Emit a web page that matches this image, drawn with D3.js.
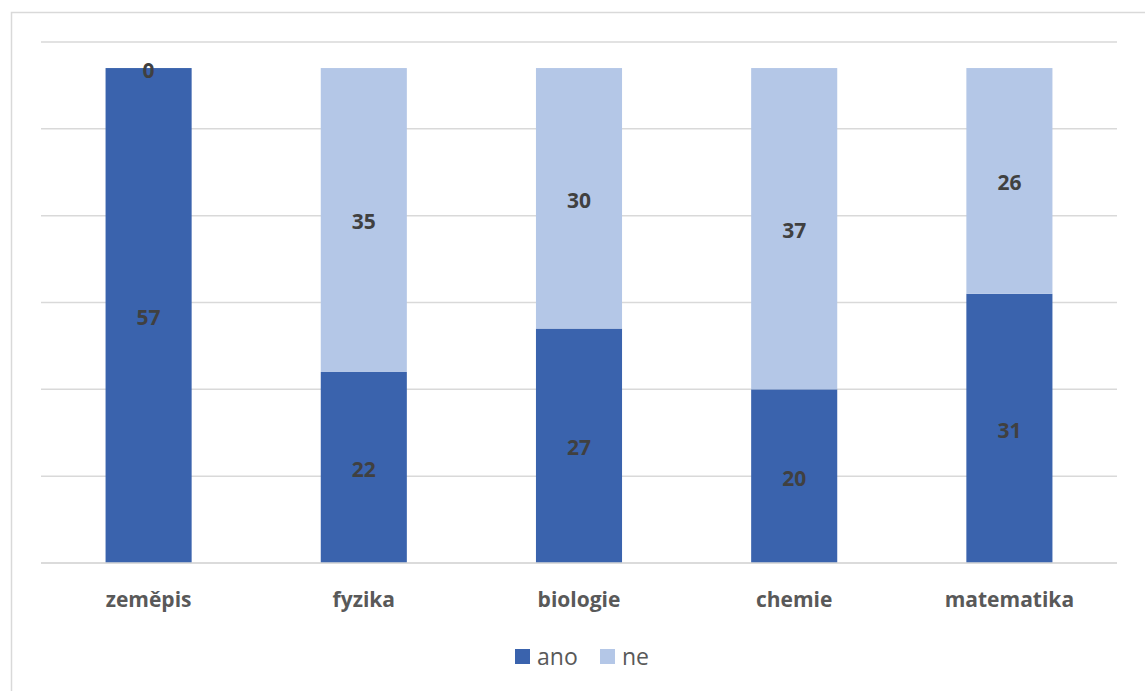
<!DOCTYPE html>
<html>
<head>
<meta charset="utf-8">
<script src="https://cdn.jsdelivr.net/npm/d3@7"></script>
<style>
  html, body { margin: 0; padding: 0; background: #fff; }
  svg { display: block; }
  text { font-family: "Open Sans", "Noto Sans", sans-serif; }
</style>
</head>
<body>
<svg id="chart" width="1145" height="691"></svg>
<script>
// Subjects and answer counts (stacked: ano below, ne on top)
const categories = ["zeměpis", "fyzika", "biologie", "chemie", "matematika"];
const ano = [57, 22, 27, 20, 31];
const ne  = [0, 35, 30, 37, 26];
const seriesNames = ["ano", "ne"];
const seriesColors = ["#3A63AD", "#B4C7E7"];
const yTicks = [0, 10, 20, 30, 40, 50, 60];

const svg = d3.select("#chart");
const W = 1145, H = 691;

// Outer chart frame
svg.append("rect")
  .attr("x", 11.5).attr("y", 12.5)
  .attr("width", W + 20).attr("height", H + 20)
  .attr("fill", "#fff").attr("stroke", "#d9d9d9").attr("stroke-width", 1.5);

const plot = { left: 41, right: 1117, top: 42, bottom: 563 };

const x = d3.scaleBand()
  .domain(categories)
  .range([plot.left, plot.right])
  .paddingInner(0.6)
  .paddingOuter(0.3);

const y = d3.scaleLinear()
  .domain([0, 60])
  .range([plot.bottom, plot.top]);

// Horizontal gridlines
svg.append("g")
  .selectAll("line")
  .data(yTicks)
  .join("line")
  .attr("x1", plot.left).attr("x2", plot.right)
  .attr("y1", d => y(d)).attr("y2", d => y(d))
  .attr("stroke", "#d9d9d9").attr("stroke-width", 1.5);

const rows = categories.map((c, i) => ({ cat: c, ano: ano[i], ne: ne[i] }));
const stacked = d3.stack().keys(seriesNames)(rows);

// Bars
const layers = svg.append("g")
  .selectAll("g")
  .data(stacked)
  .join("g")
  .attr("fill", (d, i) => seriesColors[i]);

layers.selectAll("rect")
  .data(d => d)
  .join("rect")
  .attr("x", d => x(d.data.cat))
  .attr("width", x.bandwidth())
  .attr("y", d => y(d[1]))
  .attr("height", d => y(d[0]) - y(d[1]));

// Baseline redrawn over bars
svg.append("line")
  .attr("x1", plot.left).attr("x2", plot.right)
  .attr("y1", y(0)).attr("y2", y(0))
  .attr("stroke", "#d9d9d9").attr("stroke-width", 1.5);

// Value labels centred in each segment
layers.selectAll("text")
  .data(d => d.map(p => ({ p, key: d.key })))
  .join("text")
  .attr("x", d => x(d.p.data.cat) + x.bandwidth() / 2)
  .attr("y", d => y((d.p[0] + d.p[1]) / 2))
  .attr("dy", "0.45em")
  .attr("text-anchor", "middle")
  .attr("fill", "#404040")
  .attr("font-size", 21)
  .attr("font-weight", "bold")
  .text(d => d.p.data[d.key]);

// Category axis labels
svg.append("g")
  .selectAll("text")
  .data(categories)
  .join("text")
  .attr("x", d => x(d) + x.bandwidth() / 2)
  .attr("y", 600)
  .attr("dy", "0.35em")
  .attr("text-anchor", "middle")
  .attr("fill", "#595959")
  .attr("font-size", 21)
  .attr("font-weight", "bold")
  .text(d => d);

// Legend
const legend = svg.append("g");
const legendItems = [
  { name: seriesNames[0], color: seriesColors[0], x: 515 },
  { name: seriesNames[1], color: seriesColors[1], x: 600 }
];
legendItems.forEach(it => {
  legend.append("rect")
    .attr("x", it.x).attr("y", 649)
    .attr("width", 15).attr("height", 15)
    .attr("fill", it.color);
  legend.append("text")
    .attr("x", it.x + 22).attr("y", 657)
    .attr("dy", "0.35em")
    .attr("fill", "#595959")
    .attr("font-size", 23)
    .text(it.name);
});
</script>
</body>
</html>
